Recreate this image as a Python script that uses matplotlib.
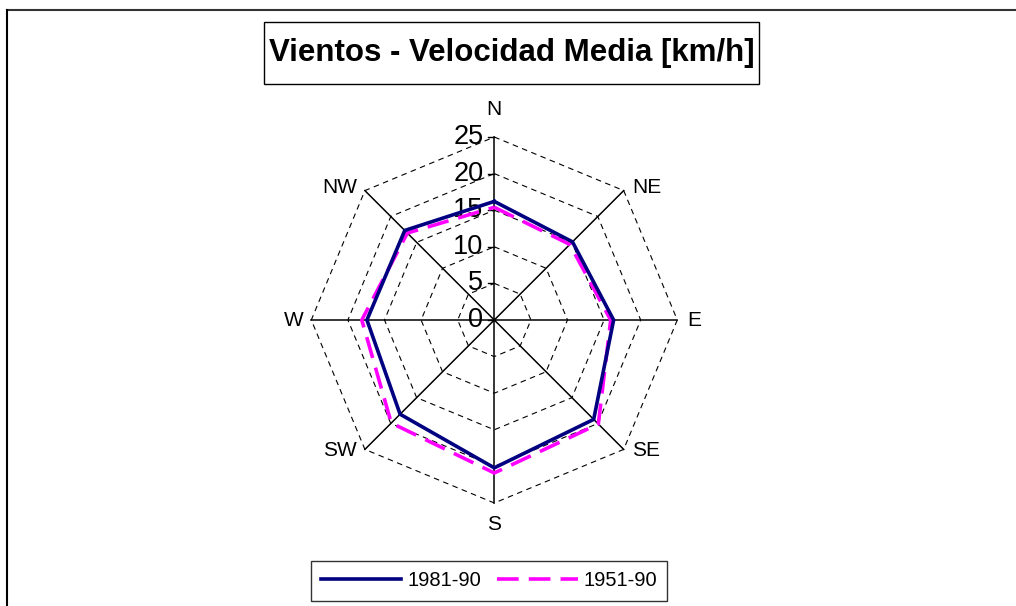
import numpy as np
import matplotlib
matplotlib.use('Agg')
import matplotlib.pyplot as plt
from matplotlib.lines import Line2D
from matplotlib.patches import Rectangle

plt.rcParams['font.family'] = ['Liberation Sans', 'DejaVu Sans']

# data (km/h)
directions = ['N', 'NE', 'E', 'SE', 'S', 'SW', 'W', 'NW']
v_1981_90 = [16.2, 15.1, 16.3, 19.2, 20.2, 18.2, 17.4, 17.3]
v_1951_90 = [15.4, 14.6, 15.9, 20.1, 20.9, 19.9, 18.1, 16.8]
r_ticks = [0, 5, 10, 15, 20, 25]
series_names = ['1981-90', '1951-90']

W, H = 1016, 606
fig = plt.figure(figsize=(W / 100, H / 100), dpi=100)

# centre of the radar at pixel (494.3, 320), 25 km/h -> 183 px
cx, cy = 494.3, H - 320
ppu = 183 / 25.0
half = 30 * ppu
ax = fig.add_axes([(cx - half) / W, (cy - half) / H, 2 * half / W, 2 * half / H])
ax.set_xlim(-30, 30)
ax.set_ylim(-30, 30)
ax.set_aspect('equal')
ax.axis('off')

ang = np.deg2rad(np.arange(len(directions)) * 45.0)
sx, sy = np.sin(ang), np.cos(ang)


def closed(a):
    return np.append(a, a[0])


# dashed polygon grid
for r in r_ticks[1:]:
    ax.plot(closed(r * sx), closed(r * sy), color='black', lw=0.8,
            ls=(0, (5, 4)), zorder=1)

# spokes
rmax = r_ticks[-1]
for i in range(len(directions)):
    ax.plot([0, rmax * sx[i]], [0, rmax * sy[i]], color='black', lw=1.1, zorder=2)

# small ticks on the value axis
for r in r_ticks:
    ax.plot([-0.8, 0], [r, r], color='black', lw=1.0, zorder=2)
    ax.text(-1.5, r, str(r), ha='right', va='center', fontsize=19.5, zorder=3)

# direction labels
lab_pos = {
    'N': (0, 28.8, 'center', 'center'),
    'NE': (18.8, 18.1, 'left', 'center'),
    'E': (26.4, 0, 'left', 'center'),
    'SE': (18.8, -17.8, 'left', 'center'),
    'S': (0, -28.0, 'center', 'center'),
    'SW': (-18.8, -17.8, 'right', 'center'),
    'W': (-26.1, 0, 'right', 'center'),
    'NW': (-18.7, 18.1, 'right', 'center'),
}
for d in directions:
    x, y, ha, va = lab_pos[d]
    ax.text(x, y, d, ha=ha, va=va, fontsize=15)

v1 = np.array(v_1981_90)
v2 = np.array(v_1951_90)
l1, = ax.plot(closed(v1 * sx), closed(v1 * sy), color='#000080', lw=2.6,
              solid_joinstyle='miter', zorder=5)
l2, = ax.plot(closed(v2 * sx), closed(v2 * sy), color='#FF00FF', lw=2.6,
              ls=(0, (6, 2.8)), zorder=4)

# legend
leg = fig.legend([l1, l2], series_names, loc='center',
                 bbox_to_anchor=(489 / W, 1 - 581 / H), ncol=2,
                 fontsize=14.5, frameon=True, fancybox=False,
                 handlelength=4.0, handletextpad=0.3, columnspacing=0.8,
                 borderpad=0.5, borderaxespad=0)
leg.get_frame().set_edgecolor('black')
leg.get_frame().set_linewidth(1.0)

# title with box
tx0, tx1, ty0, ty1 = 264, 759, 21.7, 84
fig.patches.append(Rectangle((tx0 / W, 1 - ty1 / H), (tx1 - tx0) / W, (ty1 - ty0) / H,
                             transform=fig.transFigure, fill=False,
                             edgecolor='black', lw=1.0))
fig.text((tx0 + tx1) / 2 / W, 1 - (ty0 + ty1) / 2 / H, 'Vientos - Velocidad Media [km/h]',
         ha='center', va='center', fontsize=22.5, fontweight='bold')

# outer frame (top and left only visible)
fig.lines.append(Line2D([7 / W, 1], [1 - 9.5 / H, 1 - 9.5 / H],
                        transform=fig.transFigure, color='#333333', lw=1.5))
fig.lines.append(Line2D([7 / W, 7 / W], [0, 1 - 9.5 / H],
                        transform=fig.transFigure, color='black', lw=1.5))

fig.savefig('out.png', dpi=100)
